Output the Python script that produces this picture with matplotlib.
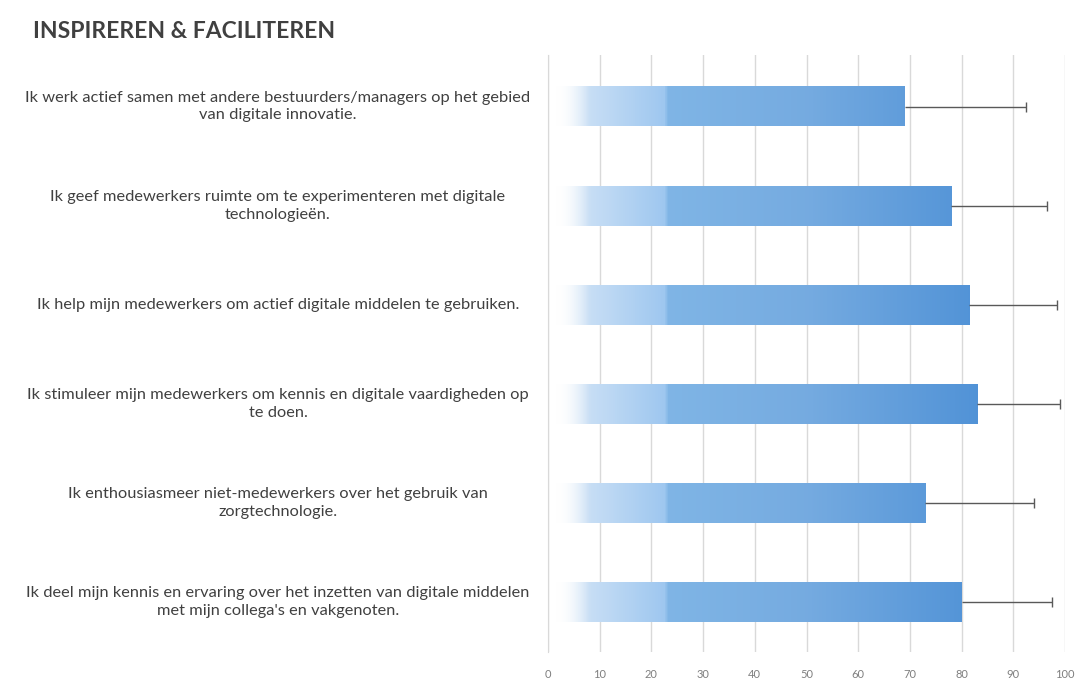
import matplotlib
matplotlib.use("Agg")
import matplotlib.pyplot as plt
import numpy as np
from matplotlib.colors import LinearSegmentedColormap
import matplotlib.transforms as mtransforms

plt.rcParams['font.family'] = ['Lato', 'DejaVu Sans']

title = "INSPIREREN & FACILITEREN"
categories = [
    "Ik werk actief samen met andere bestuurders/managers op het gebied\nvan digitale innovatie.",
    "Ik geef medewerkers ruimte om te experimenteren met digitale\ntechnologieën.",
    "Ik help mijn medewerkers om actief digitale middelen te gebruiken.",
    "Ik stimuleer mijn medewerkers om kennis en digitale vaardigheden op\nte doen.",
    "Ik enthousiasmeer niet-medewerkers over het gebruik van\nzorgtechnologie.",
    "Ik deel mijn kennis en ervaring over het inzetten van digitale middelen\nmet mijn collega's en vakgenoten.",
]
values = [69, 78, 81.5, 83, 73, 80]
errors = [23.5, 18.5, 17, 16, 21, 17.5]
xticks = [0, 10, 20, 30, 40, 50, 60, 70, 80, 90, 100]

fig = plt.figure(figsize=(10.83, 6.84), dpi=100)
ax = fig.add_axes([548/1083, 1-652/684, (1065-548)/1083, (652-55)/684])

ypos = np.arange(len(categories))
bar_h = 0.40
bars = ax.barh(ypos, values, height=bar_h, color='none', edgecolor='none', zorder=3)

cmap = LinearSegmentedColormap.from_list("grad", [
    (0.00, (1, 1, 1, 0.0)),
    (0.015, (1, 1, 1, 0.0)),
    (0.08, (0.78, 0.87, 0.96, 1.0)),
    (0.225, (0.62, 0.78, 0.94, 1.0)),
    (0.23, (0.50, 0.71, 0.90, 1.0)),
    (0.50, (0.46, 0.67, 0.88, 1.0)),
    (0.85, (0.31, 0.57, 0.84, 1.0)),
    (1.00, (0.25, 0.52, 0.82, 1.0)),
])
for b in bars:
    x0, y0 = b.get_x(), b.get_y()
    w, h = b.get_width(), b.get_height()
    frac = w / 100.0
    n = max(int(512 * frac), 2)
    g = np.linspace(0, frac, n).reshape(1, -1)
    ax.imshow(g, cmap=cmap, vmin=0, vmax=1, aspect='auto',
              extent=(x0, x0 + w, y0 + h, y0), zorder=3, interpolation='bilinear')

ax.errorbar(values, ypos, xerr=[np.zeros(len(errors)), errors], fmt='none',
            ecolor='#595959', elinewidth=1.0, capsize=0, zorder=4)
ends = np.array(values) + np.array(errors)
ax.scatter(ends, ypos, marker='|', s=60, color='#595959', linewidths=1.0, zorder=4)

ax.set_xlim(0, 100)
ax.set_ylim(len(categories) - 0.5, -0.52)
ax.set_xticks(xticks)
ax.set_xticklabels([str(t) for t in xticks], fontsize=8, color='#7f7f7f')
ax.set_yticks([])
ax.tick_params(axis='x', length=0, pad=12)
ax.grid(axis='x', color='#d9d9d9', linewidth=1.0, zorder=0)
ax.set_axisbelow(True)
for s in ['top', 'right', 'bottom']:
    ax.spines[s].set_visible(False)
ax.spines['left'].set_color('#d9d9d9')

trans = mtransforms.blended_transform_factory(fig.transFigure, ax.transData)
for y, lab in zip(ypos, categories):
    ax.text(278/1083, y, lab, transform=trans, ha='center', va='center',
            multialignment='center', fontsize=11.8, color='#404040', linespacing=1.35)

fig.text(33/1083, 1-31/684, title, fontsize=16.5, fontweight='bold',
         color='#404040', ha='left', va='center')

fig.savefig("out.png", dpi=100, facecolor='white')
